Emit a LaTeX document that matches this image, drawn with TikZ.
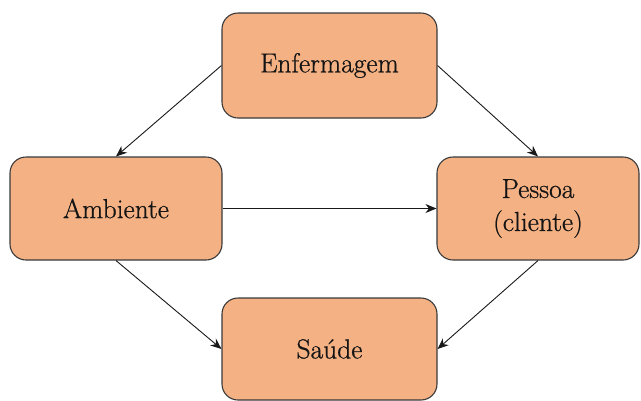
\documentclass[tikz,border=0pt]{standalone}
\usepackage{fontspec}
\newfontfamily\labelfont{Latin Modern Roman}[FakeBold=0.7]
\usetikzlibrary{arrows.meta}
\definecolor{boxfill}{HTML}{F4B183}
\definecolor{boxline}{HTML}{3A3A3A}
\definecolor{txt}{HTML}{141414}
\tikzset{
  concept/.style={draw=boxline, line width=1.1pt, fill=boxfill, rounded corners=16pt,
    inner sep=0pt, align=center, text=txt, font=\labelfont\fontsize{27.5}{33}\selectfont},
  link/.style={draw=black!90, line width=0.9pt, -{Stealth[length=11pt,width=9pt]}}
}
\begin{document}
\begin{tikzpicture}[x=1pt,y=-1pt]
  \useasboundingbox (0,0) rectangle (641,400);
  \node[concept, minimum width=215pt, minimum height=105pt] (enf) at (329.5,65.5) {Enfermagem};
  \node[concept, minimum width=212pt, minimum height=103pt] (amb) at (116,208.5) {Ambiente};
  \node[concept, minimum width=202pt, minimum height=103pt] (pes) at (538,208.5) {Pessoa\\(cliente)};
  \node[concept, minimum width=215pt, minimum height=102pt] (sau) at (329.5,349) {Saúde};
  \draw[link] (enf.west) -- (amb.north);
  \draw[link] (enf.east) -- (pes.north);
  \draw[link] (amb.east) -- (pes.west);
  \draw[link] (amb.south) -- (sau.west);
  \draw[link] (pes.south) -- (sau.east);
\end{tikzpicture}
\end{document}
